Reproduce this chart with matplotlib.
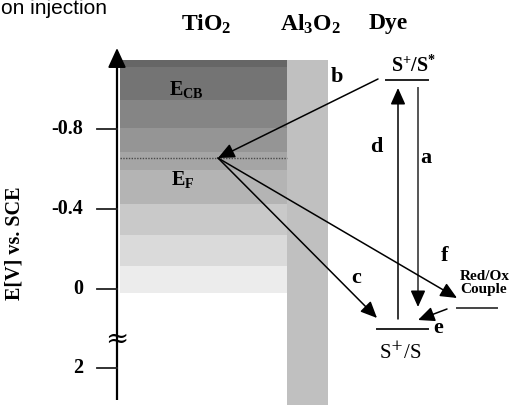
import matplotlib
matplotlib.use('Agg')
import matplotlib.pyplot as plt

plt.rcParams['mathtext.fontset'] = 'custom'
plt.rcParams['mathtext.rm'] = 'Liberation Serif:bold'
plt.rcParams['mathtext.it'] = 'Liberation Serif:bold'
plt.rcParams['mathtext.bf'] = 'Liberation Serif:bold'

# energy scale of the drawing (V vs. SCE, axis is broken between 0 and 2)
tick_pos = [-0.8, -0.4, 0.0, 0.395]
tick_labels = ['-0.8', '-0.4', '0', '2']

# TiO2 band shading: edges (top -> bottom) and gray level of each band
band_edges = [-1.145, -1.11, -0.945, -0.805, -0.685, -0.595, -0.425, -0.27, -0.115, 0.02]
band_grays = ['#666666', '#747474', '#858585', '#959595', '#a5a5a5',
              '#b4b4b4', '#c9c9c9', '#dadada', '#ececec']

# levels
E_fermi = -0.655
E_excited = -1.045   # S+/S*
E_ground = 0.2       # S+/S
E_redox = 0.095      # Red/Ox couple

y_top, y_bot = -1.445, 0.58

fig = plt.figure(figsize=(5.12, 4.05), dpi=100)
ax = fig.add_axes([0, 0, 1, 1])
ax.set_xlim(0, 512)
ax.set_ylim(y_bot, y_top)
ax.axis('off')

serif = 'Liberation Serif'

# TiO2 bands
for top, bot, c in zip(band_edges[:-1], band_edges[1:], band_grays):
    ax.fill_between([120, 287], top, bot, color=c, lw=0)
# Al2O3 layer
ax.fill_between([287, 328], band_edges[0], y_bot, color='#c0c0c0', lw=0)
# Fermi level
ax.plot([120, 287], [E_fermi, E_fermi], color='#4a4a4a', lw=1.0, ls=(0, (1, 1)))

# y axis with arrow and break
ax.plot([117, 117], [0.555, -1.12], color='k', lw=1.6, solid_capstyle='butt')
ax.annotate('', xy=(117, -1.205), xytext=(117, -1.1),
            arrowprops=dict(arrowstyle='-|>,head_length=1.2,head_width=0.55',
                            color='k', lw=1.4, mutation_scale=10,
                            shrinkA=0, shrinkB=0))
for t, lab in zip(tick_pos, tick_labels):
    ax.plot([97, 117], [t, t], color='#222222', lw=1.3)
    ax.text(83, t, lab, ha='right', va='center', fontsize=14.5,
            fontweight='bold', family=serif)
ax.text(117, 0.252, '\u2248', ha='center', va='center', fontsize=20,
        family='DejaVu Serif')
ax.text(15, -0.23, 'E[V] vs. SCE', rotation=90, ha='center', va='center',
        fontsize=14.5, fontweight='bold', family=serif)

# headers
ax.text(1, -1.375, 'on injection', ha='left', va='baseline',
        fontsize=15, family='Liberation Sans')
ax.text(206, -1.325, r'$\mathrm{TiO_2}$', ha='center', va='center', fontsize=17)
ax.text(310, -1.325, r'$\mathrm{Al_3O_2}$', ha='center', va='center', fontsize=17)
ax.text(388, -1.33, 'Dye', ha='center', va='center', fontsize=17,
        fontweight='bold', family=serif)
ax.text(186, -1.0, r'$\mathrm{E_{CB}}$', ha='center', va='center', fontsize=14.5)
ax.text(183, -0.545, r'$\mathrm{E_F}$', ha='center', va='center', fontsize=14.5)

# dye and redox levels
ax.plot([386, 428], [E_excited, E_excited], color='#222222', lw=1.4)
ax.plot([377, 428], [E_ground, E_ground], color='#222222', lw=1.4)
ax.plot([457, 497], [E_redox, E_redox], color='#444444', lw=1.4)
ax.text(414, -1.115, r'S$^{+}$/S$^{*}$', ha='center', va='center', fontsize=14.5,
        fontweight='bold', family=serif)
ax.text(400, 0.32, r'S$^{+}$/S', ha='center', va='center', fontsize=15,
        family=serif, math_fontfamily='dejavuserif')
ax.text(460, -0.06, 'Red/Ox', ha='left', va='center', fontsize=11,
        fontweight='bold', family=serif)
ax.text(460, 0.0, 'Couple', ha='left', va='center', fontsize=11,
        fontweight='bold', family=serif)

head = dict(arrowstyle='-|>,head_length=1.0,head_width=0.45', color='k',
            lw=1.1, mutation_scale=10, shrinkA=0, shrinkB=0)


def arrow(x0, y0, x1, y1):
    ax.annotate('', xy=(x1, y1), xytext=(x0, y0), arrowprops=head)


# b: recombination to the fermi level
arrow(378, -1.05, 218, E_fermi)
# c, f: back transfer from the fermi level
arrow(218, E_fermi, 377, 0.145)
arrow(218, E_fermi, 457, 0.045)
# d: excitation
arrow(398, 0.15, 398, -1.005)
# a: decay (gray line, black head)
ax.plot([418, 418], [-1.005, 0.05], color='#555555', lw=1.4)
arrow(418, 0.04, 418, 0.09)
# e: regeneration
arrow(447, 0.1, 418, 0.155)

for lab, x, y in [('b', 337, -1.06), ('d', 376, -0.71), ('a', 426, -0.655),
                  ('c', 356, -0.055), ('f', 445, -0.165), ('e', 438, 0.195)]:
    ax.text(x, y, lab, ha='center', va='center', fontsize=16,
            fontweight='bold', family=serif)

fig.savefig('out.png', dpi=100)
